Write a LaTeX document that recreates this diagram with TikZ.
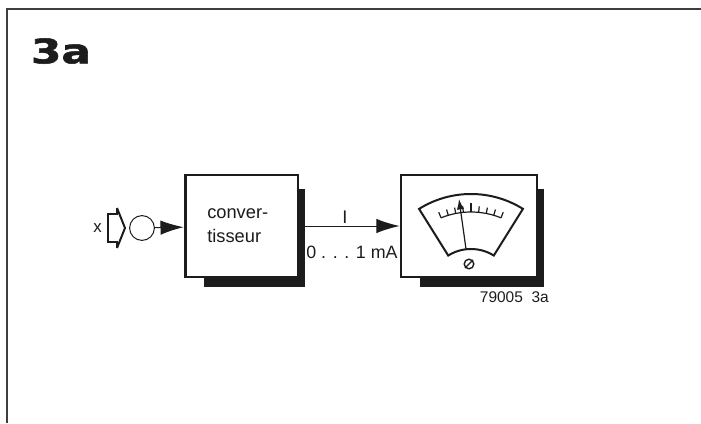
\documentclass[tikz,border=0pt]{standalone}
\usepackage{xcolor}
\usepackage{fontspec}
\setmainfont{Liberation Sans}
\newfontfamily\headfont[BoldFeatures={FakeBold=1.5}]{DejaVu Sans}
\usetikzlibrary{positioning,arrows.meta,backgrounds}
\definecolor{ink}{RGB}{28,28,28}
\tikzset{
  panel/.style={draw=ink, line width=0.7mm, fill=white, inner sep=0pt},
  shadow/.style={fill=ink},
  signal/.style={draw=ink, line width=0.25mm, -{Latex[length=5.8mm,width=3.6mm]}},
}

\begin{document}
\begin{tikzpicture}[x=0.25mm,y=0.25mm,font=\fontsize{12}{14}\selectfont,text=ink]
\useasboundingbox (0,0) rectangle (701,423);
% frame
\draw[ink!85, line width=0.4mm] (7,0)--(7,414)--(701,414);
\node[font=\headfont\bfseries\fontsize{24}{24}\selectfont, xscale=1.3] (title) at (61,372) {3a};
% blocks
\node[panel, minimum width=28.2mm, minimum height=25.5mm] (conv) at (241.5,197) {};
\node[panel, minimum width=34mm, minimum height=25.5mm] (meter) at (469,197) {};
\begin{scope}[on background layer]
\foreach \p in {conv,meter}{\fill[shadow] ([shift={(20,-15)}]\p.north west) rectangle ([shift={(5.5,-9)}]\p.south east);}
\end{scope}
\node[align=left, inner sep=0pt, anchor=west, font=\fontsize{13}{17}\selectfont] (convtext) at (207,197.5) {conver-\\tisseur};
% input
\node[draw=ink, line width=0.25mm, circle, minimum size=6.2mm, inner sep=0pt] (src) at (142,195) {};
\coordinate (plug) at (108,195);
\draw[ink, line width=0.5mm] (plug)++(9,20)--++(0,-6)--++(-9,0)--++(0,-28)--++(9,0)--++(0,-6);
\draw[ink, line width=0.5mm] (plug)++(9,20)--(125,195)--(117,175);
\node[left=1.5mm of plug, inner sep=0pt] (xlabel) {x};
% connectors
\draw[signal] (src)--(conv);
\draw[signal] (conv)--(meter);
\node[inner sep=0pt, font=\fontsize{13}{14}\selectfont] (ilabel) at (345,206) {I};
\node[inner sep=0pt, font=\fontsize{12.7}{14}\selectfont] (range) at (352,171) {0 . . . 1 mA};
\node[inner sep=0pt, font=\fontsize{11}{12}\selectfont, anchor=east] (ref) at (549,126) {79005\ \ 3a};
% meter face
\coordinate (pivot) at (471,131);
\draw[ink, line width=0.5mm] ([shift={(58:98)}]pivot) arc (58:122:98)--([shift={(122:43)}]pivot) arc (122:58:43)--cycle;
\draw[ink, line width=0.3mm] ([shift={(68:80)}]pivot) arc (68:112:80);
\foreach \a/\l in {112/6,106.5/6,101/6,95.5/6,90/9,84.5/6,79/6,73.5/6,68/6}{\draw[ink, line width=0.3mm] ([shift={(\a:80)}]pivot)--([shift={(\a:80+\l)}]pivot);}
\draw[ink, line width=0.3mm, -{Latex[length=2.6mm,width=1.8mm]}] (466,174)--(459,224);
\node[draw=ink, line width=0.35mm, circle, minimum size=2.4mm, inner sep=0pt] (zero) at (469,159) {};
\draw[ink, line width=0.35mm] (zero.south west)--(zero.north east);
\end{tikzpicture}
\end{document}
